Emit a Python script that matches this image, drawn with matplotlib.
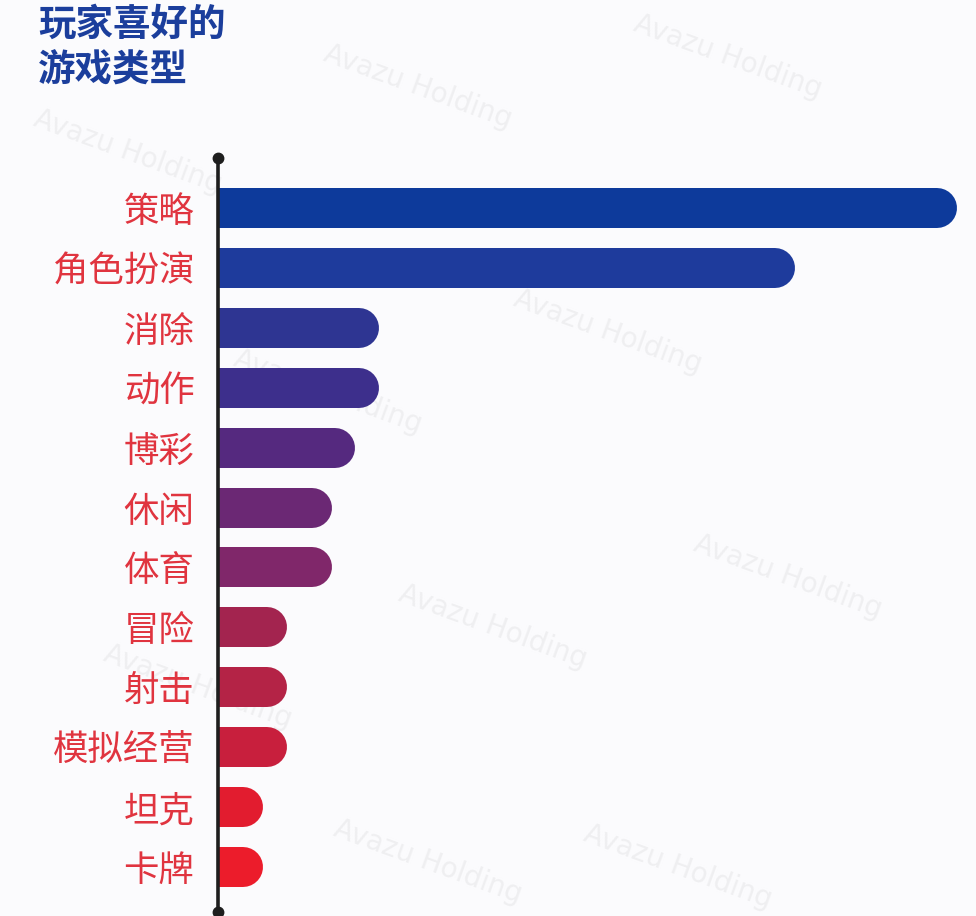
import matplotlib
matplotlib.use('Agg')
from matplotlib import pyplot as plt

plt.rcParams['font.family'] = ['Noto Sans CJK SC', 'DejaVu Sans']

#------- data -----------
categories = ['策略', '角色扮演', '消除', '动作', '博彩', '休闲',
              '体育', '冒险', '射击', '模拟经营', '坦克', '卡牌']
values = [739, 577, 161, 161, 137, 114, 114, 69, 69, 69, 45, 45]
bar_colors = ['#0d3a9b', '#1e3b9c', '#2e3592', '#3d2f8c', '#55297f', '#6b2874',
              '#80276a', '#a3244f', '#b42346', '#c81f3d', '#e21c2f', '#ec1c2b']
title = '玩家喜好的\n游戏类型'
watermarks = [(320, 40), (630, 10), (30, 105), (510, 285), (690, 530),
              (395, 580), (580, 820), (100, 640), (230, 345), (330, 815)]
#------------------------

W, H = 976, 916
fig = plt.figure(figsize=(W / 100, H / 100), dpi=100)
fig.patch.set_facecolor('#fbfbfd')

# watermark layer (behind the bars)
for (wx, wy) in watermarks:
    fig.text(wx / W, 1 - wy / H, 'Avazu Holding', rotation=-20,
             fontsize=20, color='#efeff1', family='DejaVu Sans',
             ha='left', va='top', zorder=0)

x0, x1 = 218, 976
y_top, y_bot = 158, 912
ax = fig.add_axes([x0 / W, 1 - y_bot / H, (x1 - x0) / W, (y_bot - y_top) / H])
ax.patch.set_alpha(0)
ax.set_zorder(2)

bar_px = 40
cap = bar_px / 2
lw_pt = bar_px * 72 / 100
for i, (v, c) in enumerate(zip(values, bar_colors)):
    # round cap on right, left end clipped by axes edge
    ax.plot([0, v - cap], [i, i], color=c, linewidth=lw_pt,
            solid_capstyle='round', zorder=2)

step = (867 - 208) / 11
ax.set_xlim(0, x1 - x0)
ax.set_ylim((y_bot - 208) / step, -(208 - y_top) / step)

for s in ['top', 'right', 'bottom']:
    ax.spines[s].set_visible(False)
ax.spines['left'].set_color('#1e1e1e')
ax.spines['left'].set_linewidth(2.6)
ax.spines['left'].set_zorder(3)

ylo, yhi = ax.get_ylim()
ax.plot([0, 0], [yhi, ylo], linestyle='none', marker='o', markersize=7.5,
        color='#1e1e1e', clip_on=False, zorder=4)

ax.set_xticks([])
ax.set_yticks(range(len(categories)))
ax.set_yticklabels(categories, fontsize=25.5, color='#e0343f')
ax.tick_params(axis='y', length=0, pad=17)

fig.text(38 / W, 1 - 5 / H, title, fontsize=27, fontweight='heavy',
         color='#1b3e9c', ha='left', va='top', linespacing=1.2)

fig.savefig('out.png', dpi=100, facecolor=fig.get_facecolor())
plt.close()
